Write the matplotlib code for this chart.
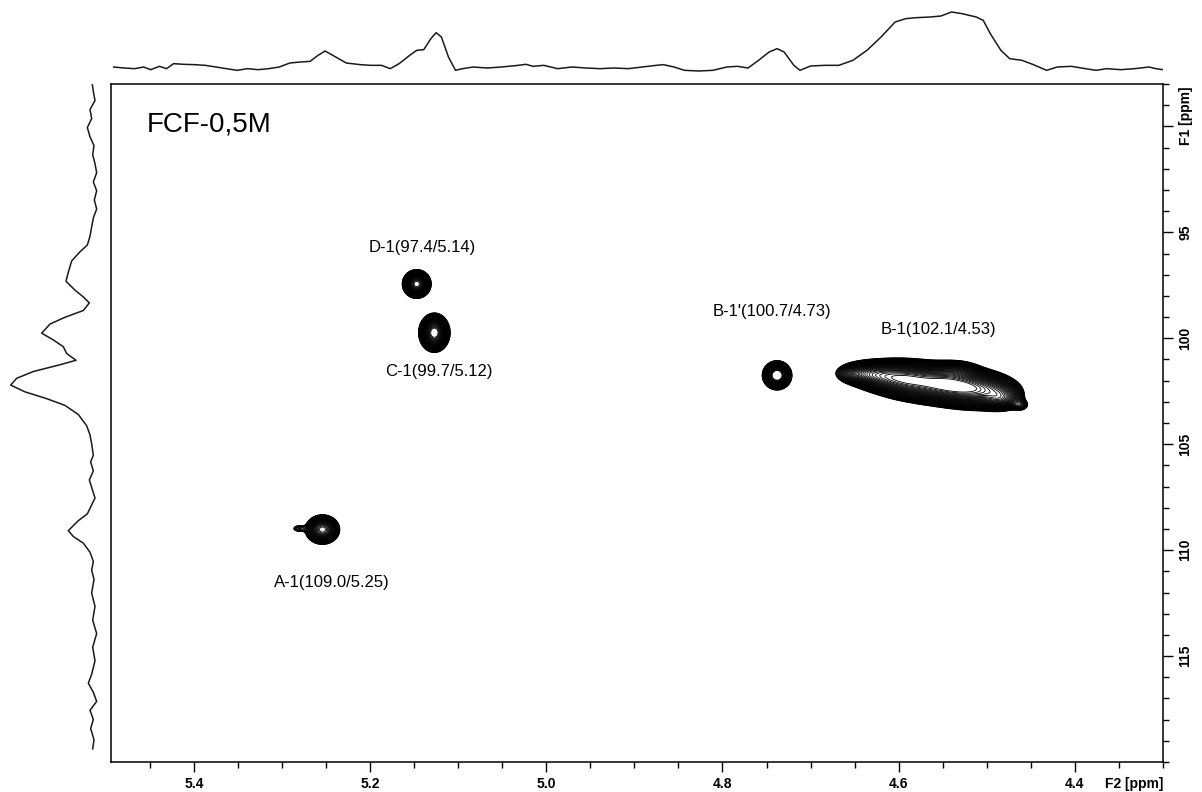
import numpy as np
import matplotlib
matplotlib.use("Agg")
import matplotlib.pyplot as plt
from matplotlib.ticker import MultipleLocator

# ─── DATA ───────────────────────────────────────────────────────────────────
# cross peaks: F2 (1H, ppm), F1 (13C, ppm), relative height, widths (sigma, ppm)
# D-1, C-1, A-1 (+ shoulder), B-1', then B-1 ridge components, bulges and tail
peak_f2 = [5.147, 5.127, 5.254, 5.281, 4.738,
           4.638, 4.616, 4.593, 4.570, 4.547, 4.525, 4.502, 4.482,
           4.536, 4.485, 4.462]
peak_f1 = [97.44, 99.74, 109.03, 108.98, 101.75,
           101.66, 101.80, 101.94, 102.08, 102.18, 102.32, 102.46, 102.65,
           101.52, 102.93, 103.16]
peak_amp = [1.3, 1.4, 0.8, 0.09, 1.7,
            0.45, 0.65, 0.82, 0.72, 0.85, 0.82, 0.65, 0.35,
            0.2, 0.25, 0.12]
peak_sf2 = [0.0065, 0.0070, 0.0084, 0.0051, 0.0064,
            0.0159, 0.0159, 0.0159, 0.0159, 0.0159, 0.0159, 0.0159, 0.0114,
            0.0136, 0.0114, 0.0057]
peak_sf1 = [0.27, 0.364, 0.30, 0.12, 0.263,
            0.28, 0.35, 0.40, 0.42, 0.42, 0.42, 0.40, 0.33,
            0.235, 0.235, 0.16]

labels = ["D-1(97.4/5.14)", "C-1(99.7/5.12)", "A-1(109.0/5.25)",
          "B-1'(100.7/4.73)", "B-1(102.1/4.53)"]
label_f2 = [5.141, 5.122, 5.243, 4.744, 4.555]
label_f1 = [95.70, 101.57, 111.52, 98.75, 99.60]

# 1H projection (top)
top_ppm = [5.491, 5.479, 5.467, 5.457, 5.449, 5.439, 5.431, 5.423, 5.411, 5.399,
           5.387, 5.375, 5.363, 5.351, 5.339, 5.327, 5.315, 5.303, 5.291, 5.279,
           5.268, 5.259, 5.251, 5.239, 5.227, 5.211, 5.199, 5.187, 5.177, 5.167,
           5.155, 5.147, 5.139, 5.131, 5.125, 5.119, 5.111, 5.103, 5.095, 5.083,
           5.067, 5.051, 5.035, 5.023, 5.015, 5.003, 4.987, 4.971, 4.955, 4.939,
           4.923, 4.907, 4.891, 4.875, 4.867, 4.855, 4.843, 4.827, 4.811, 4.795,
           4.783, 4.771, 4.759, 4.747, 4.738, 4.730, 4.719, 4.712, 4.700, 4.684,
           4.668, 4.652, 4.636, 4.620, 4.604, 4.592, 4.580, 4.564, 4.552, 4.540,
           4.528, 4.512, 4.504, 4.496, 4.484, 4.474, 4.460, 4.448, 4.432, 4.420,
           4.404, 4.388, 4.376, 4.364, 4.348, 4.332, 4.316, 4.308, 4.300]
top_int = [15, 12, 10, 15, 7, 17, 10, 25, 23, 22,
           20, 15, 10, 5, 10, 7, 10, 15, 27, 30,
           32, 50, 63, 45, 27, 22, 20, 20, 10, 25,
           50, 65, 67, 100, 118, 105, 45, 5, 10, 15,
           12, 15, 19, 23, 17, 20, 10, 15, 12, 10,
           12, 10, 15, 20, 22, 15, 5, 3, 5, 15,
           17, 12, 35, 60, 70, 60, 20, 5, 18, 20,
           20, 35, 65, 105, 150, 160, 163, 165, 168, 180,
           175, 165, 155, 115, 65, 40, 35, 23, 5, 15,
           17, 10, 5, 10, 7, 10, 15, 10, 7]

# 13C projection (left)
left_ppm = [87.82, 88.35, 88.78, 89.21, 89.63, 90.06, 90.49, 90.91, 91.34, 91.76,
            92.19, 92.62, 93.04, 93.47, 93.90, 94.32, 94.75, 95.18, 95.60, 95.92,
            96.35, 96.88, 97.31, 97.73, 98.05, 98.33, 98.69, 99.01, 99.33, 99.76,
            100.08, 100.40, 100.72, 101.04, 101.25, 101.57, 101.89, 102.21, 102.53, 102.85,
            103.17, 103.60, 104.13, 104.56, 104.98, 105.52, 105.84, 106.26, 106.69, 107.54,
            108.29, 108.61, 109.08, 109.36, 109.67, 110.10, 110.53, 110.95, 111.38, 112.02,
            112.66, 113.30, 113.94, 114.58, 115.22, 115.86, 116.28, 116.71, 117.14, 117.56,
            117.99, 118.42, 118.95, 119.38]
left_int = [10, 5, 0, 15, 10, 23, 15, 3, 7, 0,
            -5, 5, -5, 2, -5, 5, 10, 15, 23, 45,
            70, 80, 87, 60, 35, 17, 35, 90, 135, 160,
            125, 95, 85, 57, 105, 185, 235, 253, 210, 145,
            90, 50, 25, 15, 10, 5, 13, 5, 17, 0,
            23, 50, 80, 65, 35, 15, 5, 10, 3, 10,
            0, 7, -5, 7, 0, 10, 20, 5, -5, 15,
            5, 13, 3, 7]

x_major = [5.4, 5.2, 5.0, 4.8, 4.6, 4.4]
y_major = [90, 95, 100, 105, 110, 115]
y_major_labels = ["", "95", "100", "105", "110", "115"]

# ─── 2D SURFACE FROM PEAK LIST ──────────────────────────────────────────────
f2 = np.linspace(4.30, 5.494, 1600)
f1 = np.linspace(88, 120, 1000)
F2, F1 = np.meshgrid(f2, f1)
Z = np.zeros_like(F2)
for c2, c1, a, s2, s1 in zip(peak_f2, peak_f1, peak_amp, peak_sf2, peak_sf1):
    Z += a * np.exp(-((F2 - c2) ** 2 / (2 * s2 ** 2) + (F1 - c1) ** 2 / (2 * s1 ** 2)))
levels = 0.05 * 1.08 ** np.arange(42)

# ─── FIGURE ─────────────────────────────────────────────────────────────────
W, H = 1202, 792
fig = plt.figure(figsize=(W / 100, H / 100), dpi=100)


def px_axes(l, t, r, b):
    return fig.add_axes([l / W, 1 - b / H, (r - l) / W, (b - t) / H])


ax = px_axes(111, 84, 1163, 762)
ax_top = px_axes(111, 5, 1163, 75)
ax_left = px_axes(5, 84, 100, 762)

ax.contour(F2, F1, Z, levels=levels, colors="black", linewidths=0.6)
ax.set_xlim(5.494, 4.30)
ax.set_ylim(120, 88)

tick_font = dict(family="Liberation Sans", weight="bold", size=10)
ax.xaxis.set_ticks_position("bottom")
ax.yaxis.set_ticks_position("right")
ax.set_xticks(x_major)
ax.set_xticklabels([f"{v:.1f}" for v in x_major], fontdict=tick_font)
ax.set_yticks(y_major)
ax.set_yticklabels(y_major_labels, fontdict=tick_font, rotation=90, va="center")
ax.xaxis.set_minor_locator(MultipleLocator(0.05))
ax.yaxis.set_minor_locator(MultipleLocator(1))
ax.tick_params(which="major", length=7.5, width=1.0, direction="out", pad=3.5)
ax.tick_params(which="minor", length=4.5, width=1.0, direction="out")
for sp in ax.spines.values():
    sp.set_linewidth(1.1)

ax.annotate("F2 [ppm]", xy=(1, 0), xycoords="axes fraction", xytext=(0, -11),
            textcoords="offset points", ha="right", va="top", **tick_font)
ax.annotate("F1 [ppm]", xy=(1, 1), xycoords="axes fraction", xytext=(11.5, -2),
            textcoords="offset points", ha="left", va="top", rotation=90, **tick_font)

for txt, x, y in zip(labels, label_f2, label_f1):
    ax.text(x, y, txt, ha="center", va="center", fontsize=12, family="Liberation Sans")
ax.text(0.093, 0.94, "FCF-0,5M", transform=ax.transAxes, ha="center", va="center",
        fontsize=20, family="Liberation Sans")

# projections
ax_top.plot(top_ppm, top_int, color="#1a1a1a", lw=1.1)
ax_top.set_xlim(5.494, 4.30)
ax_top.set_ylim(-9, 201)
ax_top.axis("off")

ax_left.plot(left_int, left_ppm, color="#1a1a1a", lw=1.1)
ax_left.set_xlim(270, -15)
ax_left.set_ylim(120, 88)
ax_left.axis("off")

fig.savefig("out.png", dpi=100)
